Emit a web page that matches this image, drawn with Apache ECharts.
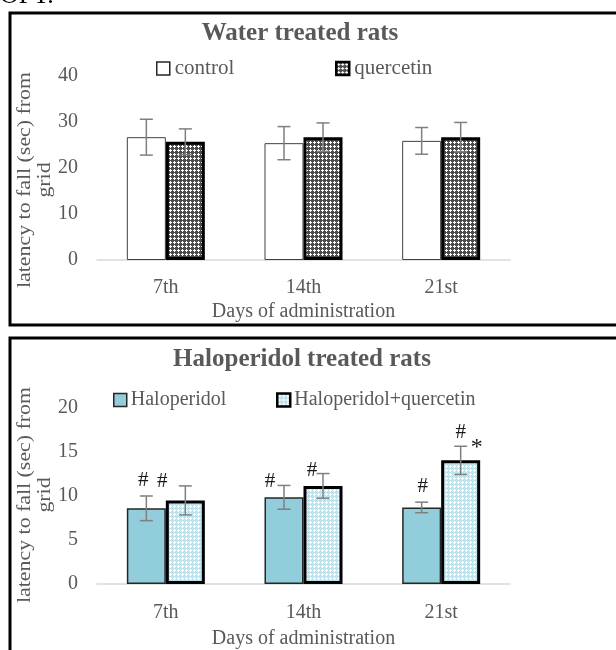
<!DOCTYPE html>
<html>
<head>
<meta charset="utf-8">
<script src="https://cdn.jsdelivr.net/npm/echarts@6/dist/echarts.min.js"></script>
<style>html,body{margin:0;padding:0;background:#fff;}#c{width:616px;height:650px;}</style>
</head>
<body>
<div id="c"></div>
<script>
// ---- data ----
const days = ['7th', '14th', '21st'];
const controlVals = [26.7, 25.4, 25.9];
const controlErr = [3.9, 3.6, 2.9];
const quercetinVals = [25.7, 26.7, 26.7];
const quercetinErr = [2.8, 3.1, 3.2];
const haloVals = [8.6, 9.85, 8.7];
const haloErr = [1.4, 1.35, 0.6];
const haloQuerVals = [9.5, 11.15, 14.05];
const haloQuerErr = [1.65, 1.4, 1.6];
const haloAnn = ['#', '#', '#'];
const haloQuerAnn = ['#', '#', '#'];
const haloQuerStar = ['', '', '*'];
const topTicks = [0, 40, 10];
const bottomTicks = [0, 20, 5];

// ---- styling helpers ----
const FONT = '"Liberation Serif", "Times New Roman", serif';
const GRAY = '#595959';
const BW = 39;

function makePattern(bg, fg) {
  const cv = document.createElement('canvas');
  cv.width = 4; cv.height = 4;
  const ctx = cv.getContext('2d');
  ctx.fillStyle = bg; ctx.fillRect(0, 0, 4, 4);
  ctx.fillStyle = fg;
  ctx.fillRect(2, 1, 1, 3);
  ctx.fillRect(1, 2, 3, 1);
  return { image: cv, repeat: 'repeat' };
}
const querPattern = makePattern('#4d4d4d', '#ffffff');
const hqPattern = makePattern('#bfe3ec', '#ffffff');

// annotation offsets (px) relative to error bar top: [dx, dy]
const haloAnnOff = [[-3, -16], [-14, -4], [1, -16]];
const haloQuerAnnOff = [[-23, -4], [-11, -3], [0, -14]];
const haloQuerStarOff = [[0, 0], [0, 0], [16, 1]];

function errSeries(name, xi, yi, vals, errs, side) {
  return {
    type: 'custom', name: name + '_err', xAxisIndex: xi, yAxisIndex: yi, z: 5,
    data: vals.map((v, i) => [i, v, errs[i]]),
    renderItem: function (params, api) {
      const c = api.value(0), v = api.value(1), e = api.value(2);
      const hi = api.coord([c, v + e]);
      const lo = api.coord([c, v - e]);
      const x = hi[0] + side * BW / 2;
      const cap = 6.5;
      const st = { stroke: '#7f7f7f', lineWidth: 1.5 };
      return { type: 'group', children: [
        { type: 'line', shape: { x1: x, y1: hi[1], x2: x, y2: lo[1] }, style: st },
        { type: 'line', shape: { x1: x - cap, y1: hi[1], x2: x + cap, y2: hi[1] }, style: st },
        { type: 'line', shape: { x1: x - cap, y1: lo[1], x2: x + cap, y2: lo[1] }, style: st }
      ]};
    }
  };
}

function annSeries(xi, yi, vals, errs, texts, offs, side, size) {
  return {
    type: 'custom', xAxisIndex: xi, yAxisIndex: yi, z: 6,
    data: vals.map((v, i) => [i, v + errs[i]]),
    renderItem: function (params, api) {
      const i = params.dataIndex;
      const p = api.coord([api.value(0), api.value(1)]);
      return { type: 'text', style: {
        text: texts[i], x: p[0] + side * BW / 2 + offs[i][0], y: p[1] + offs[i][1],
        fill: '#1a1a1a', font: (size || 21) + 'px ' + FONT, align: 'center', verticalAlign: 'middle'
      }};
    }
  };
}

function legendFor(name, left, top, itemStyle, fs, pad) {
  return {
    data: [{ name: name, itemStyle: itemStyle }], left: left, top: top, icon: 'rect',
    itemWidth: 13, itemHeight: 13, itemGap: 0, padding: 0,
    textStyle: { color: GRAY, fontSize: fs, fontFamily: FONT, padding: [0, 0, 0, pad] }
  };
}

const xAxisBase = {
  type: 'category', data: days,
  axisTick: { show: false },
  axisLine: { lineStyle: { color: '#d9d9d9', width: 1.5 } },
  axisLabel: { color: GRAY, fontSize: 20, fontFamily: FONT },
  nameLocation: 'middle',
  nameTextStyle: { color: GRAY, fontSize: 20, fontFamily: FONT }
};
function yAxisFor(gi, ticks) {
  return {
    type: 'value', gridIndex: gi, min: ticks[0], max: ticks[1], interval: ticks[2],
    axisLine: { show: false }, axisTick: { show: false }, splitLine: { show: false },
    axisLabel: { color: GRAY, fontSize: 20, fontFamily: FONT, margin: 19 }
  };
}

const chart = echarts.init(document.getElementById('c'));
chart.setOption({
  animation: false,
  backgroundColor: '#fff',
  grid: [
    { left: 97, right: 106, top: 76, height: 184 },
    { left: 97, right: 106, top: 408, height: 180 }
  ],
  xAxis: [
    Object.assign({}, xAxisBase, { gridIndex: 0, name: 'Days of administration', nameGap: 42,
      axisLabel: Object.assign({}, xAxisBase.axisLabel, { margin: 18 }) }),
    Object.assign({}, xAxisBase, { gridIndex: 1, name: 'Days of administration', nameGap: 45,
      axisLabel: Object.assign({}, xAxisBase.axisLabel, { margin: 19 }) })
  ],
  yAxis: [yAxisFor(0, topTicks), yAxisFor(1, bottomTicks)],
  legend: [
    legendFor('control', 156, 58, { color: '#fff', borderColor: '#262626', borderWidth: 1.5 }, 21, 0),
    legendFor('quercetin', 335, 58, { color: querPattern, borderColor: '#000', borderWidth: 2.5 }, 21, 0),
    legendFor('Haloperidol', 113, 390, { color: '#92cddc', borderColor: '#262626', borderWidth: 1.5 }, 20, -1),
    legendFor('Haloperidol+quercetin', 276, 390, { color: hqPattern, borderColor: '#000', borderWidth: 2.5 }, 20, -1)
  ],
  series: [
    { type: 'bar', name: 'control', xAxisIndex: 0, yAxisIndex: 0, data: controlVals,
      barWidth: BW, barGap: '0%',
      itemStyle: { color: '#fff', borderColor: '#404040', borderWidth: 1 } },
    { type: 'bar', name: 'quercetin', xAxisIndex: 0, yAxisIndex: 0, data: quercetinVals,
      barWidth: BW, barGap: '0%',
      itemStyle: { color: querPattern, borderColor: '#000', borderWidth: 3 } },
    { type: 'bar', name: 'Haloperidol', xAxisIndex: 1, yAxisIndex: 1, data: haloVals,
      barWidth: BW, barGap: '0%',
      itemStyle: { color: '#92cddc', borderColor: '#262626', borderWidth: 1.5 } },
    { type: 'bar', name: 'Haloperidol+quercetin', xAxisIndex: 1, yAxisIndex: 1, data: haloQuerVals,
      barWidth: BW, barGap: '0%',
      itemStyle: { color: hqPattern, borderColor: '#000', borderWidth: 3 } },
    errSeries('control', 0, 0, controlVals, controlErr, -1),
    errSeries('quercetin', 0, 0, quercetinVals, quercetinErr, 1),
    errSeries('Haloperidol', 1, 1, haloVals, haloErr, -1),
    errSeries('Haloperidol+quercetin', 1, 1, haloQuerVals, haloQuerErr, 1),
    annSeries(1, 1, haloVals, haloErr, haloAnn, haloAnnOff, -1),
    annSeries(1, 1, haloQuerVals, haloQuerErr, haloQuerAnn, haloQuerAnnOff, 1),
    annSeries(1, 1, haloQuerVals, haloQuerErr, haloQuerStar, haloQuerStarOff, 1, 24)
  ],
  graphic: [
    { type: 'text', left: 0, top: -17, style: { text: 'OPT.', font: '26px ' + FONT, fill: '#000' } },
    { type: 'rect', shape: { x: 10, y: 13, width: 640, height: 312 }, style: { fill: 'none', stroke: '#000', lineWidth: 3 }, z: 10 },
    { type: 'rect', shape: { x: 10, y: 338, width: 640, height: 340 }, style: { fill: 'none', stroke: '#000', lineWidth: 3 }, z: 10 },
    { type: 'text', x: 300, y: 34, style: { text: 'Water treated rats', font: 'bold 25px ' + FONT, fill: GRAY, align: 'center', verticalAlign: 'middle' } },
    { type: 'text', x: 302, y: 360, style: { text: 'Haloperidol treated rats', font: 'bold 25px ' + FONT, fill: GRAY, align: 'center', verticalAlign: 'middle' } },
    { type: 'text', x: 35, y: 180, rotation: Math.PI / 2, scaleX: 1.15,
      style: { text: 'latency to fall (sec) from\ngrid', font: '19px ' + FONT, fill: GRAY, align: 'center', verticalAlign: 'middle', lineHeight: 20 } },
    { type: 'text', x: 35, y: 495, rotation: Math.PI / 2, scaleX: 1.15,
      style: { text: 'latency to fall (sec) from\ngrid', font: '19px ' + FONT, fill: GRAY, align: 'center', verticalAlign: 'middle', lineHeight: 20 } }
  ]
});
</script>
</body>
</html>
